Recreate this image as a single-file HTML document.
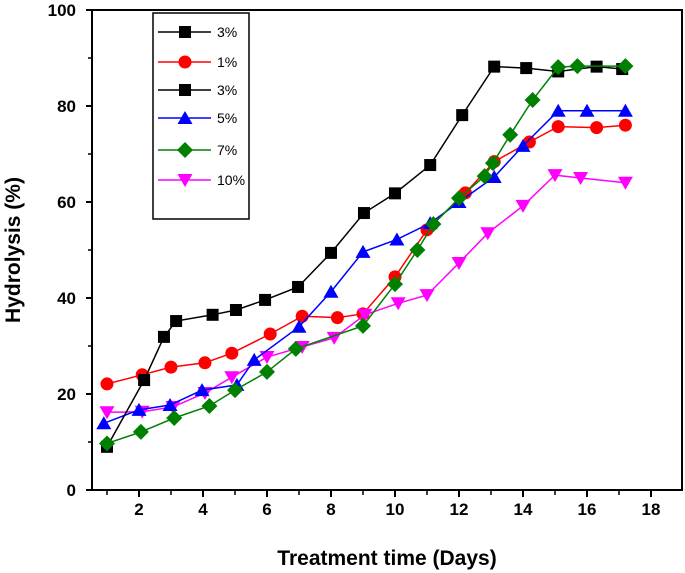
<!DOCTYPE html>
<html><head><meta charset="utf-8"><style>
body{margin:0;background:#fff}
svg{display:block;font-family:"Liberation Sans",Arial,sans-serif}
</style></head><body>
<svg id="chart" width="685" height="573" viewBox="0 0 685 573"></svg>
<script>
const xTicks=[2,4,6,8,10,12,14,16,18];
const yTicks=[0,20,40,60,80,100];
const black1X=[1,2.16,2.78,3.16,4.3,5.03,5.94,6.97,8.0,9.03,10,11.1,12.1,13.1,14.1,15.1,16.3,17.1];
const black1Y=[9,22.9,31.9,35.2,36.5,37.5,39.6,42.3,49.4,57.7,61.8,67.7,78.1,88.2,87.9,87.2,88.2,87.7];
const redX=[1,2.1,3.0,4.06,4.9,6.1,7.1,8.2,9.0,10,11,12.2,13.1,14.2,15.1,16.3,17.2];
const redY=[22.1,24,25.6,26.5,28.5,32.5,36.2,35.9,36.7,44.4,54.2,61.9,68.4,72.5,75.7,75.5,76];
const blueX=[0.9,2.0,2.97,3.97,5.06,5.6,7.0,8.0,9.0,10.06,11.1,12,13.1,14,15.1,16,17.2];
const blueY=[13.9,16.7,17.7,20.8,21.9,27.1,34,41.3,49.6,52.2,55.6,60,65.2,71.7,79,79,79];
const greenX=[1,2.06,3.1,4.2,5.0,6.0,6.9,9.0,10,10.7,11.2,12.0,12.8,13.06,13.6,14.3,15.1,15.7,17.2];
const greenY=[9.7,12.1,15,17.5,20.8,24.6,29.4,34.2,42.9,50,55.4,60.8,65.4,68.1,74,81.25,88.1,88.3,88.3];
const pinkX=[1,2.1,3.06,4.06,4.9,6.0,7.1,8.1,9.06,10.1,11,12,12.9,14,15,15.8,17.2];
const pinkY=[16.2,16.3,17.3,20.2,23.5,27.7,29.8,31.7,36.5,38.9,40.6,47.3,53.5,59.2,65.6,65,64];
const legendLabels=["3%","1%","3%","5%","7%","10%"];

const NS="http://www.w3.org/2000/svg";
const svg=document.getElementById('chart');
const L=92,R=682,T=10,B=490;
const xs=d=>91+(d-0.5)*32;
const ys=v=>B-v*4.8;
function mk(tag,attrs,parent){const e=document.createElementNS(NS,tag);for(const k in attrs)e.setAttribute(k,attrs[k]);(parent||svg).appendChild(e);return e;}

// axes box
const box=mk('rect',{x:L,y:T,width:R-L,height:B-T,fill:'none',stroke:'#000','stroke-width':2});



// y ticks
yTicks.forEach(v=>{
  const t=mk('line',{x1:L-6,x2:L,y1:ys(v),y2:ys(v),stroke:'#000','stroke-width':2});
  
  
  const lb=mk('text',{x:L-16,y:ys(v)+6,'text-anchor':'end','font-size':17,'font-weight':'bold'});
  lb.textContent=v;
  
  
});
for(let v=10;v<100;v+=20){
  const t=mk('line',{x1:L-4,x2:L,y1:ys(v),y2:ys(v),stroke:'#000','stroke-width':1.5});
  
  
}
// x ticks
xTicks.forEach(v=>{
  const t=mk('line',{x1:xs(v),x2:xs(v),y1:B,y2:B+7,stroke:'#000','stroke-width':2});
  
  
  const lb=mk('text',{x:xs(v),y:B+25,'text-anchor':'middle','font-size':17,'font-weight':'bold'});
  lb.textContent=v;
  
  
});
for(let v=1;v<19;v+=2){
  const t=mk('line',{x1:xs(v),x2:xs(v),y1:B,y2:B+5,stroke:'#000','stroke-width':1.5});
  
  
}
const xt=mk('text',{x:387,y:565,'text-anchor':'middle','font-size':21,'font-weight':'bold'});
xt.textContent='Treatment time (Days)';


const yt=mk('text',{x:0,y:0,'text-anchor':'middle','font-size':21,'font-weight':'bold',transform:'translate(20,250) rotate(-90)'});
yt.textContent='Hydrolysis (%)';



function marker(type,cx,cy,color,g){
  if(type==='sq')return mk('rect',{x:cx-6,y:cy-6,width:12,height:12,fill:color},g);
  if(type==='ci')return mk('circle',{cx:cx,cy:cy,r:6.5,fill:color},g);
  if(type==='tu')return mk('polygon',{points:`${cx},${cy-7} ${cx-7.5},${cy+6} ${cx+7.5},${cy+6}`,fill:color},g);
  if(type==='td')return mk('polygon',{points:`${cx},${cy+7} ${cx-7.5},${cy-6} ${cx+7.5},${cy-6}`,fill:color},g);
  if(type==='di')return mk('polygon',{points:`${cx},${cy-8} ${cx+8},${cy} ${cx},${cy+8} ${cx-8},${cy}`,fill:color},g);
}
const series=[
  {name:'series-1pct',X:redX,Y:redY,c:'#ff0000',m:'ci'},
  {name:'series-10pct',X:pinkX,Y:pinkY,c:'#ff00ff',m:'td'},
  {name:'series-5pct',X:blueX,Y:blueY,c:'#0000ff',m:'tu'},
  {name:'series-3pct',X:black1X,Y:black1Y,c:'#000000',m:'sq'},
  {name:'series-7pct',X:greenX,Y:greenY,c:'#008000',m:'di'}
];
series.forEach(s=>{
  const g=mk('g',{});
  
  
  const pl=mk('polyline',{points:s.X.map((x,i)=>xs(x)+','+ys(s.Y[i])).join(' '),fill:'none',stroke:s.c,'stroke-width':1.5},g);
  
  
  s.X.forEach((x,i)=>{
    const m=marker(s.m,xs(x),ys(s.Y[i]),s.c,g);
    
    
  });
});

// legend
const lg=mk('g',{});


mk('rect',{x:153,y:13,width:96,height:206,fill:'#fff',stroke:'#000','stroke-width':1.5},lg);
const lcol=['#000','#ff0000','#000','#0000ff','#008000','#ff00ff'];
const lm=['sq','ci','sq','tu','di','td'];
const ly=[32,62,90,118,150,180];
legendLabels.forEach((t,i)=>{
  const e=mk('g',{},lg);
  
  
  mk('line',{x1:158,x2:211,y1:ly[i],y2:ly[i],stroke:lcol[i],'stroke-width':1.5},e);
  marker(lm[i],185,ly[i],lcol[i],e);
  const tx=mk('text',{x:217,y:ly[i]+5,'font-size':14,fill:'#000'},e);
  tx.textContent=t;
});
</script>
</body></html>
